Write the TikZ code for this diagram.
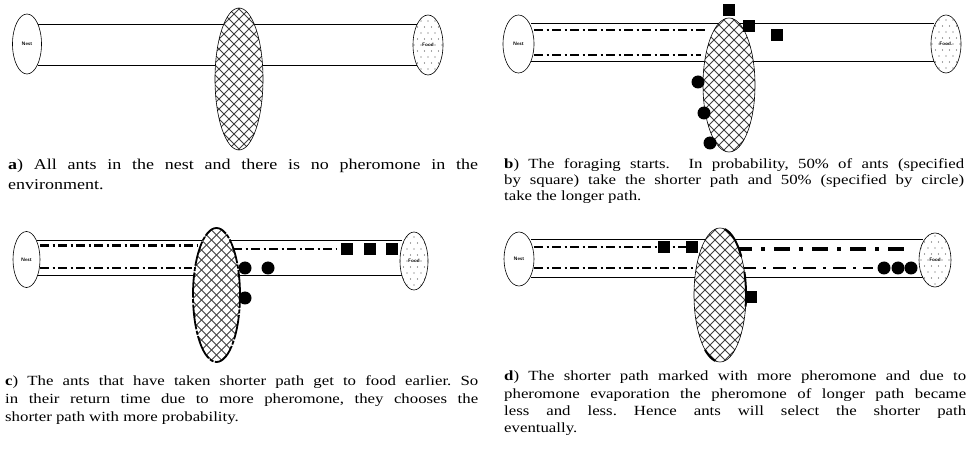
\documentclass[tikz,border=0pt]{standalone}
\usepackage{fontspec}
\setmainfont{Liberation Serif}
\newfontfamily\capfont[FakeStretch=1.2]{Liberation Serif}
\usetikzlibrary{shapes.geometric}
\frenchspacing
\tikzset{
  endpt/.style={draw, ellipse, inner sep=0pt, line width=0.6pt, fill=white,
    font=\sffamily\bfseries\fontsize{5}{5}\selectfont},
  foodpt/.style={endpt, path picture={
    \foreach \i in {-3,...,3}{\foreach \j in {-6,...,6}{
      \fill[black!70] ([xshift={\i*7pt+mod(abs(\j),2)*3.5pt}, yshift={\j*6pt}]path picture bounding box.center) circle (0.6pt);}}}},
  obst/.style={draw, ellipse, inner sep=0pt, line width=0.6pt, fill=white, path picture={
    \foreach \k in {-22,...,22}{
      \draw[black!75, solid, line width=0.75pt] ([xshift={\k*10pt-110pt}, yshift=-110pt]path picture bounding box.center) -- ++(220pt,220pt);
      \draw[black!75, solid, line width=0.75pt] ([xshift={\k*10pt+110pt}, yshift=-110pt]path picture bounding box.center) -- ++(-220pt,220pt);}}},
  tube/.style={line width=0.9pt},
  pher/.style={line width=2.4pt, dash pattern=on 9pt off 3.5pt on 2pt off 3.5pt},
  pherbig/.style={line width=3.6pt, dash pattern=on 16pt off 9pt on 4pt off 9pt},
  antsq/.style={rectangle, fill=black, minimum size=12pt, inner sep=0pt},
  antci/.style={circle, fill=black, minimum size=13pt, inner sep=0pt},
  capbig/.style={anchor=base west, inner sep=0pt, font=\capfont\fontsize{15}{18}\selectfont},
  capsm/.style={anchor=base west, inner sep=0pt, font=\capfont\fontsize{14}{16}\selectfont},
}
\begin{document}
\begin{tikzpicture}[x=1pt,y=-1pt]
\useasboundingbox[fill=white] (0,0) rectangle (972,454);

% ---------------- panel a ----------------
\draw[tube] (38,24.5) -- (418,24.5);
\draw[tube] (38,65) -- (418,65);
\node[endpt, minimum width=29pt, minimum height=60pt] (nestA) at (27,44) {Nest};
\node[foodpt, minimum width=30pt, minimum height=60pt] (foodA) at (428,45) {Food};
\node[obst, minimum width=48pt, minimum height=142pt] (obsA) at (239,79) {};

% ---------------- panel b ----------------
\draw[tube] (531,23.5) -- (934,23.5);
\draw[tube] (531,61.5) -- (934,61.5);
\draw[pher] (534,30) -- (708,30);
\draw[pher] (534,55) -- (701,55);
\node[endpt, minimum width=31pt, minimum height=58pt] (nestB) at (518.5,44) {Nest};
\node[foodpt, minimum width=30pt, minimum height=58pt] (foodB) at (946,44) {Food.};
\node[obst, minimum width=52pt, minimum height=134pt] (obsB) at (729,85) {};
\node[antsq] (sb1) at (729,10) {};
\node[antsq] (sb2) at (749,26) {};
\node[antsq] (sb3) at (777,35) {};
\node[antci] (cb1) at (698,82) {};
\node[antci] (cb2) at (704,113) {};
\node[antci] (cb3) at (710,143) {};

% ---------------- panel c ----------------
\draw[tube] (37,240) -- (402,240);
\draw[tube] (37,275) -- (402,275);
\draw[pher, line width=2.1pt] (40,245.5) -- (197,245.5);
\draw[pher, line width=2.1pt] (40,268) -- (192,268);
\draw[pher, line width=2.1pt] (233,249) -- (337,249);
\node[endpt, minimum width=27pt, minimum height=56pt] (nestC) at (26.5,259.5) {Nest};
\node[foodpt, minimum width=28pt, minimum height=58pt] (foodC) at (414,261) {Food};
\node[obst, minimum width=47pt, minimum height=134pt, line width=1.8pt, dash pattern=on 25pt off 1.5pt on 4pt off 1.5pt] (obsC) at (216.5,295) {};
\node[antsq] (sc1) at (347,249) {};
\node[antsq] (sc2) at (370,249) {};
\node[antsq] (sc3) at (392,249) {};
\node[antci] (cc1) at (245,268) {};
\node[antci] (cc2) at (268,268) {};
\node[antci] (cc3) at (245,298) {};

% ---------------- panel d ----------------
\draw[tube] (531,239) -- (923,239);
\draw[tube] (531,277) -- (923,277);
\draw[pher, line width=2.1pt] (534,247) -- (686,247);
\draw[pher, line width=2.1pt] (534,268) -- (698,268);
\draw[pherbig] (736,249) -- (908,249);
\draw[pher, line width=2.8pt, dash pattern=on 13pt off 7pt on 3pt off 7pt] (743,268) -- (873,268);
\node[endpt, minimum width=30pt, minimum height=54pt] (nestD) at (519,259) {Nest};
\node[foodpt, minimum width=32pt, minimum height=54pt] (foodD) at (935,260) {Food};
\node[obst, minimum width=52pt, minimum height=134pt] (obsD) at (720,295) {};
\draw[line width=2pt] plot[domain=-80:-35, samples=20] ({720+26*cos(\x)},{295+67*sin(\x)});
\draw[line width=2pt] plot[domain=-20:10, samples=15] ({720+26*cos(\x)},{295+67*sin(\x)});
\draw[line width=2pt] plot[domain=100:125, samples=15] ({720+26*cos(\x)},{295+67*sin(\x)});
\node[antsq] (sd1) at (664,247) {};
\node[antsq] (sd2) at (692,247) {};
\node[antsq] (sd3) at (751,297) {};
\node[antci] (cd1) at (884,268) {};
\node[antci] (cd2) at (898,268) {};
\node[antci] (cd3) at (911,268) {};

% ---------------- captions ----------------
\node[capbig] (capa1) at (8,170) {\makebox[470pt][s]{\textbf{a}) All ants in the nest and there is no pheromone in the}};
\node[capbig] (capa2) at (8,190) {environment.};

\node[capsm] (capb1) at (504,169) {\makebox[460pt][s]{\textbf{b}) The foraging starts.\ \ In probability, 50\% of ants (specified}};
\node[capsm] (capb2) at (504,185) {\makebox[460pt][s]{by square) take the shorter path and 50\% (specified by circle)}};
\node[capsm] (capb3) at (504,201) {take the longer path.};

\node[capsm] (capc1) at (5,385) {\makebox[473pt][s]{\textbf{c}) The ants that have taken shorter path get to food earlier. So}};
\node[capsm] (capc2) at (5,403) {\makebox[473pt][s]{in their return time due to more pheromone, they chooses the}};
\node[capsm] (capc3) at (5,421) {shorter path with more probability.};

\node[capsm] (capd1) at (504,381) {\makebox[462pt][s]{\textbf{d}) The shorter path marked with more pheromone and due to}};
\node[capsm] (capd2) at (504,398) {\makebox[462pt][s]{pheromone evaporation the pheromone of longer path became}};
\node[capsm] (capd3) at (504,415) {\makebox[462pt][s]{less and less. Hence ants will select the shorter path}};
\node[capsm] (capd4) at (504,432) {eventually.};
\end{tikzpicture}
\end{document}
